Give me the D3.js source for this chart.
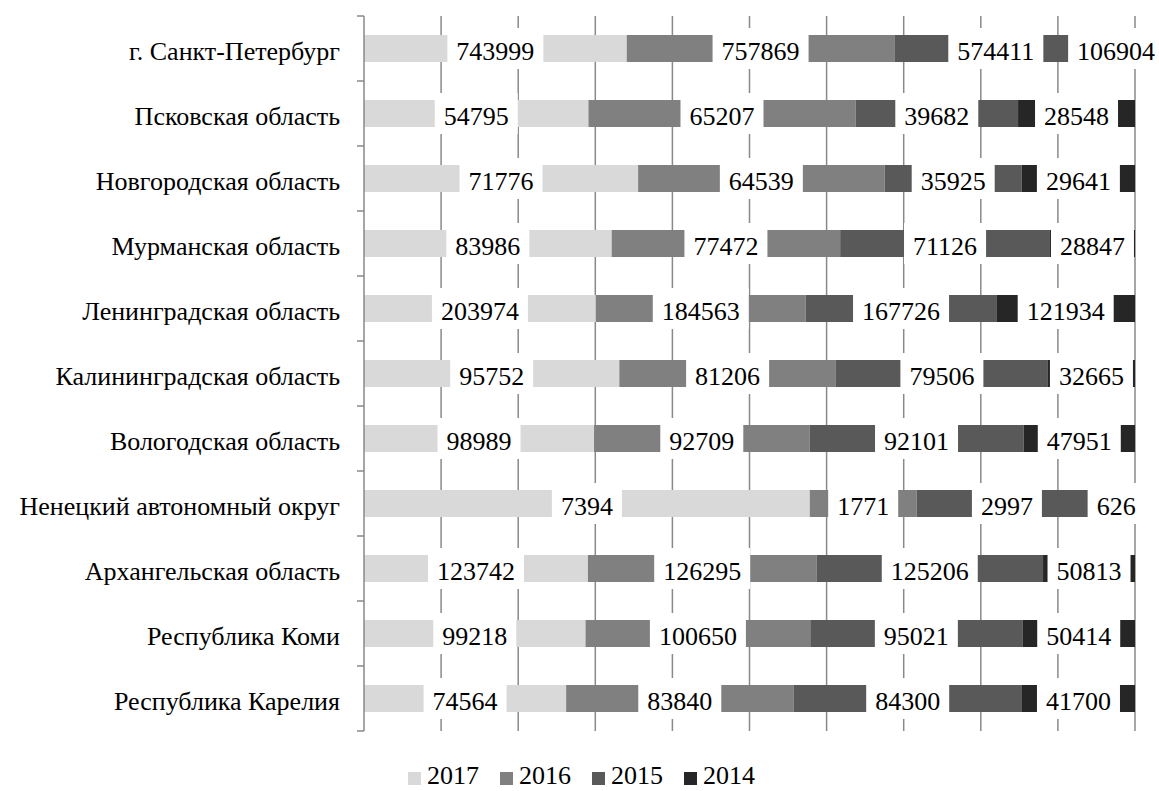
<!DOCTYPE html>
<html><head><meta charset="utf-8">
<script src="https://cdn.jsdelivr.net/npm/d3@7"></script>
<style>body{margin:0;background:#fff}svg{display:block}
svg text{font-family:"Liberation Serif","Times New Roman",Times,Tinos,"DejaVu Serif","Noto Serif",serif;font-size:26px;fill:#000}</style>
</head><body>
<svg id="c" width="1159" height="791"></svg>
<script>
const categories = ["г. Санкт-Петербург","Псковская область","Новгородская область","Мурманская область","Ленинградская область","Калининградская область","Вологодская область","Ненецкий автономный округ","Архангельская область","Республика Коми","Республика Карелия"];
const seriesNames = ["2017","2016","2015","2014"];
const v2017 = [743999,54795,71776,83986,203974,95752,98989,7394,123742,99218,74564];
const v2016 = [757869,65207,64539,77472,184563,81206,92709,1771,126295,100650,83840];
const v2015 = [574411,39682,35925,71126,167726,79506,92101,2997,125206,95021,84300];
const v2014 = [106904,28548,29641,28847,121934,32665,47951,626,50813,50414,41700];
const colors = ["#d9d9d9","#808080","#595959","#262626"];
const xTicks = [0,0.1,0.2,0.3,0.4,0.5,0.6,0.7,0.8,0.9,1];

const seriesVals = [v2017,v2016,v2015,v2014];
const rows = categories.map((c,i)=>{
  const o={cat:c};
  seriesNames.forEach((s,j)=>o[s]=seriesVals[j][i]);
  return o;
});
const stacked = d3.stack().keys(seriesNames).offset(d3.stackOffsetExpand)(rows);

const svg = d3.select("#c");
const L=364, R=1135, T=16, B=731;
const x = d3.scaleLinear().domain([0,1]).range([L,R]);
const y = d3.scaleBand().domain(categories).range([T,B]).paddingInner(0).paddingOuter(0);
const barH = 27;
const gridCol = "#898989";

// gridlines
svg.append("g").selectAll("line").data(xTicks.slice(1)).join("line")
  .attr("x1",d=>x(d)).attr("x2",d=>x(d)).attr("y1",T).attr("y2",B)
  .attr("stroke",gridCol).attr("stroke-width",1.5);

// bars
const gBars = svg.append("g");
stacked.forEach((s,j)=>{
  gBars.append("g").attr("fill",colors[j]).selectAll("rect").data(s).join("rect")
    .attr("x",d=>x(d[0])).attr("width",d=>x(d[1])-x(d[0]))
    .attr("y",d=>y(d.data.cat)+y.bandwidth()/2-barH/2).attr("height",barH);
});

// axis
const yAxis = d3.axisLeft(y).tickSize(0).tickFormat("");
const ga = svg.append("g").attr("transform",`translate(${L},0)`).call(yAxis);
ga.select(".domain").remove();
ga.append("line").attr("x1",0).attr("x2",0).attr("y1",T).attr("y2",B).attr("stroke",gridCol).attr("stroke-width",1.5);
const bounds = d3.range(categories.length+1).map(i=>T+i*y.step());
ga.selectAll(".tk").data(bounds).join("line").attr("class","tk")
  .attr("x1",-7).attr("x2",0).attr("y1",d=>d).attr("y2",d=>d).attr("stroke",gridCol).attr("stroke-width",1.5);

// category labels
svg.append("g").selectAll("text").data(categories).join("text")
  .attr("x",340).attr("y",d=>y(d)+y.bandwidth()/2+11)
  .attr("text-anchor","end")
  .text(d=>d);

// data labels
const gLab = svg.append("g");
stacked.forEach((s,j)=>{
  s.forEach(d=>{
    const cx=(x(d[0])+x(d[1]))/2, cy=y(d.data.cat)+y.bandwidth()/2;
    const g=gLab.append("g");
    const r=g.append("rect").attr("fill","#fff");
    const t=g.append("text").attr("x",cx).attr("y",cy+11).attr("text-anchor","middle")
      .text(d.data[seriesNames[j]]);
    const w=t.node().getComputedTextLength();
    r.attr("x",cx-w/2-9).attr("width",w+18).attr("y",cy-20.5).attr("height",41);
  });
});

// legend
const lg = svg.append("g");
let lx = 408;
seriesNames.forEach((s,j)=>{
  lg.append("rect").attr("x",lx).attr("y",772).attr("width",13).attr("height",13).attr("fill",colors[j]);
  const t=lg.append("text").attr("x",lx+19).attr("y",784).text(s);
  lx += 13+6+t.node().getComputedTextLength()+21;
});
</script>
</body></html>
